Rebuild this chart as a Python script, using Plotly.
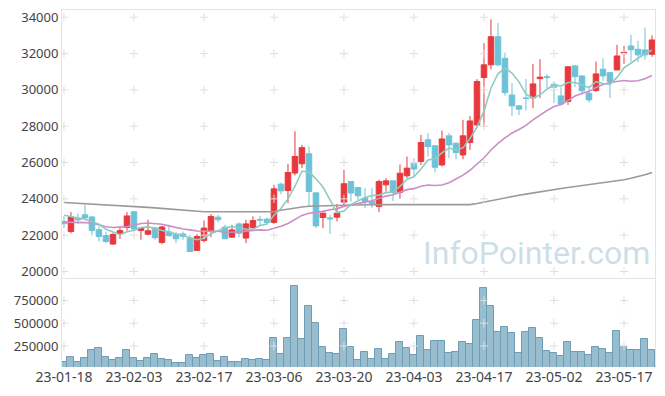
import pandas as pd
import plotly.graph_objects as go
from plotly.subplots import make_subplots

# ---- data -------------------------------------------------------------
holidays = ["2023-01-23", "2023-01-24", "2023-03-01", "2023-05-01", "2023-05-05"]
days = [d for d in pd.bdate_range("2023-01-18", "2023-05-23") if d.strftime("%Y-%m-%d") not in holidays]
dates = [d.strftime("%y-%m-%d") for d in days]

opens = [22750, 22200, 22930, 23120, 23000, 22300, 21980, 21510, 22080, 22420,
         23290, 22260, 22050, 22400, 21600, 22170, 22050, 22070, 21840, 21160,
         21710, 22200, 22990, 22440, 21890, 22620, 21840, 22420, 22870, 22880,
         22700, 24810, 24460, 25420, 25930, 26480, 24330, 22970, 22950, 22990,
         23820, 24950, 24620, 24040, 23850, 23580, 24770, 24990, 24360, 25270,
         25930, 26060, 27250, 26920, 25870, 27470, 27060, 26420, 27100, 28070,
         30680, 31380, 32930, 31740, 29720, 29120, 29560, 29560, 30620, 30720,
         30310, 29670, 29360, 31320, 30770, 29820, 29960, 31140, 30950, 31100,
         32000, 32420, 32240, 32200, 31960]
highs = [23030, 23270, 23200, 23680, 23060, 22480, 22200, 22110, 22440, 23270,
         23290, 22420, 22850, 22450, 22520, 22570, 22150, 22200, 22020, 22060,
         22810, 23160, 23120, 22570, 22570, 22700, 22850, 23030, 23070, 22970,
         24770, 24900, 25930, 27720, 26970, 26880, 24330, 23250, 23120, 23720,
         25600, 24950, 24620, 24590, 24590, 25050, 25140, 24990, 25890, 26330,
         26240, 27520, 27620, 26970, 27760, 27620, 27100, 28350, 28570, 30590,
         32570, 33890, 33690, 32060, 30370, 29150, 30600, 31430, 31690, 30870,
         30460, 30150, 31290, 31380, 30790, 30220, 31560, 31740, 30960, 32480,
         32420, 33030, 32700, 33440, 33000]
lows = [22390, 22110, 22620, 22900, 21980, 21650, 21560, 21470, 21790, 22240,
        22200, 21745, 22000, 21745, 21510, 21930, 21560, 21745, 21100, 21140,
        21600, 21890, 22700, 21780, 21840, 21890, 21560, 22300, 22570, 22630,
        22620, 24260, 23770, 25290, 25690, 23580, 22390, 22390, 22060, 22760,
        23580, 23850, 23890, 23490, 23490, 23270, 24400, 23880, 24020, 25150,
        25230, 25870, 26330, 25450, 25780, 26240, 26180, 26180, 26700, 27980,
        28000, 31120, 31300, 29680, 28570, 28620, 28860, 28990, 29550, 30100,
        29270, 29150, 29170, 30150, 29800, 29300, 29900, 30500, 29550, 31080,
        31430, 31560, 31530, 31670, 31820]
closes = [22630, 23000, 22840, 22950, 22260, 21930, 21650, 22030, 22250, 23060,
          22340, 22390, 22240, 21860, 22450, 21970, 21800, 21930, 21100, 21930,
          22390, 23030, 22850, 21800, 22290, 22110, 22620, 22800, 22830, 22700,
          24550, 24440, 25450, 26330, 26820, 24400, 22510, 23210, 22900, 23210,
          24830, 24320, 24170, 23860, 23730, 24950, 24990, 24350, 25410, 25690,
          25640, 27100, 26880, 25740, 27300, 26970, 26550, 27470, 28290, 30460,
          31380, 32930, 31380, 29850, 29120, 28940, 29530, 30330, 30700, 30680,
          30150, 29220, 31270, 30730, 29950, 29450, 30880, 30770, 30460, 31870,
          32070, 32210, 31930, 31930, 32750]
volumes = [70600, 125700, 70600, 114700, 202900, 225000, 125700, 95900, 114700, 202900,
           114700, 84900, 114700, 158800, 103700, 95900, 59500, 59500, 147800, 114700,
           147800, 158800, 81600, 125700, 70600, 70600, 103700, 92600, 103700, 92600,
           335300, 158800, 335300, 908700, 324200, 688100, 500700, 236000, 169800, 158800,
           434500, 236000, 92600, 180900, 103700, 213900, 103700, 158800, 291100, 225000,
           147800, 357300, 202900, 302200, 302200, 169800, 180900, 291100, 269100, 537100,
           886700, 688100, 401400, 456600, 390400, 169800, 401400, 445500, 335300, 195200,
           169800, 136700, 291100, 180900, 180900, 147800, 236000, 213900, 169800, 412400,
           236000, 202900, 202900, 324200, 202900]

ma5_head = [23100, 23020, 22940, 22880]
ma20_head = [22720, 22720, 22700, 22690, 22670, 22560, 22460, 22420, 22430, 22470,
             22550, 22640, 22670, 22650, 22600, 22510, 22420, 22340, 22290]
ma120 = [23800, 23780, 23760, 23730, 23710, 23690, 23670, 23650, 23620, 23600,
         23570, 23550, 23530, 23500, 23470, 23440, 23410, 23380, 23330, 23300,
         23290, 23290, 23290, 23280, 23280, 23270, 23260, 23250, 23250, 23250,
         23290, 23370, 23440, 23500, 23550, 23590, 23610, 23620, 23630, 23640,
         23650, 23660, 23670, 23680, 23690, 23690, 23690, 23690, 23680, 23680,
         23680, 23670, 23670, 23660, 23660, 23660, 23660, 23670, 23680, 23740,
         23820, 23900, 23980, 24060, 24130, 24200, 24260, 24330, 24400, 24460,
         24510, 24570, 24620, 24670, 24720, 24770, 24830, 24880, 24940, 24990,
         25050, 25130, 25220, 25330, 25450]

price_ticks = [20000, 22000, 24000, 26000, 28000, 30000, 32000, 34000]
volume_ticks = [250000, 500000, 750000]
tick_dates = dates[::10]

# ---- derived ----------------------------------------------------------
cs = pd.Series(closes)
ma5 = ma5_head + cs.rolling(5).mean().tolist()[len(ma5_head):]
ma20 = ma20_head + cs.rolling(20).mean().tolist()[len(ma20_head):]

# ---- figure -----------------------------------------------------------
RED = "#E8383D"
BLUE = "#6DC2D8"
FONT = "Noto Sans"
CROSS = "#dfdfdf"

fig = make_subplots(rows=2, cols=1, shared_xaxes=True, vertical_spacing=0,
                    row_heights=[268, 89])

fig.add_trace(go.Bar(x=dates, y=volumes, hoverinfo="skip",
                     marker=dict(color="rgba(125,172,195,0.8)",
                                 line=dict(color="#6E9DB5", width=1))), row=2, col=1)

fig.add_trace(go.Scatter(x=dates, y=ma120, mode="lines",
                         line=dict(color="#9a9a9a", width=1.6)), row=1, col=1)
fig.add_trace(go.Scatter(x=dates, y=ma20, mode="lines",
                         line=dict(color="#CC8DC8", width=1.6)), row=1, col=1)
fig.add_trace(go.Scatter(x=dates, y=ma5, mode="lines",
                         line=dict(color="#8CCBC0", width=1.6)), row=1, col=1)

fig.add_trace(go.Candlestick(x=dates, open=opens, high=highs, low=lows, close=closes,
                             increasing=dict(line=dict(color=RED, width=1), fillcolor=RED),
                             decreasing=dict(line=dict(color=BLUE, width=1), fillcolor=BLUE),
                             whiskerwidth=0), row=1, col=1)

# grid crosses
gx = [d for d in tick_dates for _ in price_ticks]
gy = [p for _ in tick_dates for p in price_ticks]
fig.add_trace(go.Scatter(x=gx, y=gy, mode="markers", hoverinfo="skip",
                         marker=dict(symbol="cross-thin", size=6,
                                     line=dict(color=CROSS, width=1))), row=1, col=1)
gx2 = [d for d in tick_dates for _ in volume_ticks]
gy2 = [p for _ in tick_dates for p in volume_ticks]
fig.add_trace(go.Scatter(x=gx2, y=gy2, mode="markers", hoverinfo="skip",
                         marker=dict(symbol="cross-thin", size=6,
                                     line=dict(color=CROSS, width=1))), row=2, col=1)

fig.add_annotation(text="InfoPointer.com", xref="paper", yref="paper",
                   x=0.801, y=0.318, xanchor="center", yanchor="middle",
                   showarrow=False,
                   font=dict(family="Roboto", size=32, color="rgba(190,211,225,0.75)"))

fig.update_layout(
    width=665, height=396,
    margin=dict(l=62, r=10, t=10, b=29),
    paper_bgcolor="white", plot_bgcolor="white",
    showlegend=False, bargap=0, boxgap=0.1, boxgroupgap=0.12,
    font=dict(family=FONT, size=13, color="#444"),
)

xr = [-0.28, 84.43]
fig.update_xaxes(type="category", categoryorder="array", categoryarray=dates,
                 range=xr, showgrid=False, zeroline=False, automargin=False,
                 rangeslider=dict(visible=False), tickmode="array",
                 tickvals=tick_dates, ticktext=tick_dates, ticks="", tickangle=0)
fig.update_xaxes(showline=True, mirror=True, linecolor="#e4e4e4", linewidth=1,
                 row=1, col=1)
fig.update_xaxes(showline=False, tickfont=dict(size=14), row=2, col=1)

fig.update_yaxes(range=[19640, 34400], tickvals=price_ticks, tickformat="d",
                 showgrid=False, zeroline=False, showline=True, mirror=True,
                 automargin=False, linecolor="#e4e4e4", ticks="", row=1, col=1)
fig.update_yaxes(range=[18700, 997000], tickvals=volume_ticks, tickformat="d",
                 showgrid=False, zeroline=False, showline=True, mirror=True,
                 automargin=False, linecolor="#e4e4e4", ticks="", row=2, col=1)

fig.write_html("out.html", config={"displayModeBar": False},
               post_script="document.body.style.margin='0px';document.body.style.overflow='hidden';")
